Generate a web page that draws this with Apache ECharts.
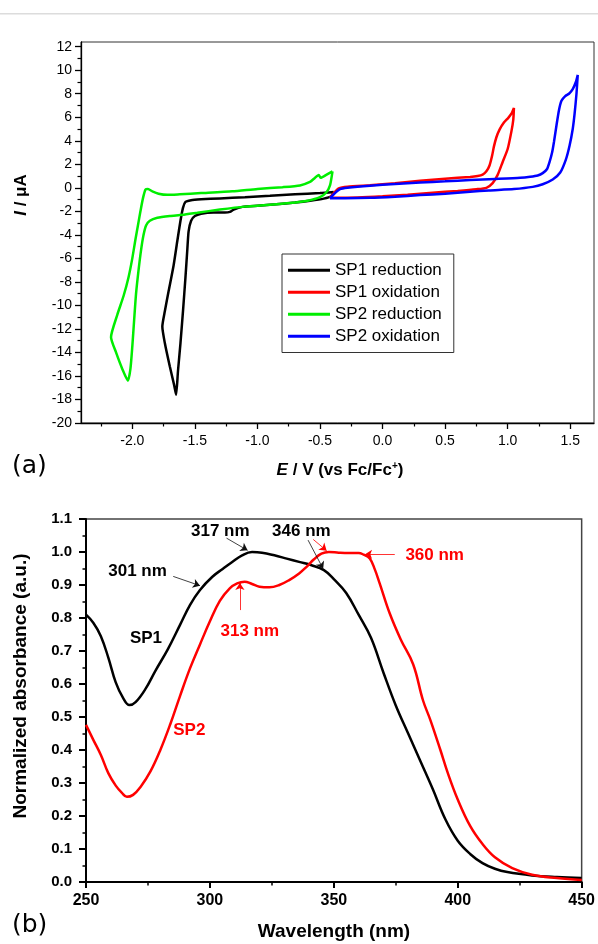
<!DOCTYPE html>
<html>
<head>
<meta charset="utf-8">
<script src="https://cdn.jsdelivr.net/npm/echarts@6/dist/echarts.min.js"></script>
<style>
  html, body { margin: 0; padding: 0; background: #fff; }
  #chart { width: 598px; height: 944px; }
</style>
</head>
<body>
<div id="chart"></div>
<script>
// (a) cyclic voltammograms, points are [E (V vs Fc/Fc+), I (uA)]
const sp1Reduction = [
  [-0.39,-0.35],[-0.5,-0.45],[-0.7,-0.55],[-0.9,-0.68],[-1.1,-0.8],[-1.3,-0.9],[-1.45,-0.98],
  [-1.53,-1.05],[-1.575,-1.2],[-1.595,-1.7],[-1.615,-2.8],[-1.64,-4.5],[-1.67,-6.6],[-1.71,-8.8],
  [-1.74,-10.5],[-1.76,-11.8],[-1.74,-13.2],[-1.70,-15.2],[-1.665,-16.8],[-1.65,-17.6],[-1.635,-15.6],
  [-1.615,-13.2],[-1.595,-10.5],[-1.575,-7.6],[-1.56,-5.2],[-1.55,-3.7],[-1.53,-2.8],[-1.50,-2.4],
  [-1.45,-2.2],[-1.35,-2.1],[-1.26,-2.1],[-1.22,-2.05],[-1.19,-1.85],[-1.12,-1.62],[-1.0,-1.52],
  [-0.85,-1.4],[-0.7,-1.25],[-0.58,-1.1],[-0.47,-0.92],[-0.41,-0.72],[-0.39,-0.35]
];
const sp1Oxidation = [
  [-0.42,-0.85],[-0.39,-0.45],[-0.35,-0.05],[-0.28,0.1],[-0.1,0.22],[0.1,0.38],[0.3,0.6],[0.5,0.78],
  [0.7,0.92],[0.76,1.0],[0.8,1.12],[0.83,1.4],[0.855,1.9],[0.875,2.7],[0.89,3.5],[0.91,4.3],
  [0.935,4.95],[0.97,5.55],[1.005,5.95],[1.03,6.3],[1.05,6.8],[1.045,5.8],[1.03,4.8],[1.0,3.3],
  [0.96,2.2],[0.92,1.1],[0.88,0.4],[0.83,0.0],[0.75,-0.12],[0.6,-0.26],[0.4,-0.42],[0.2,-0.58],
  [0.0,-0.72],[-0.2,-0.82],[-0.42,-0.85]
];
const sp2Reduction = [
  [-0.40,1.4],[-0.45,1.1],[-0.495,0.85],[-0.51,1.1],[-0.545,0.8],[-0.58,0.5],[-0.66,0.2],[-0.8,0.05],
  [-1.0,-0.1],[-1.2,-0.3],[-1.45,-0.45],[-1.62,-0.55],[-1.72,-0.6],[-1.79,-0.5],[-1.84,-0.3],
  [-1.875,-0.1],[-1.895,-0.15],[-1.915,-0.9],[-1.935,-2.0],[-1.955,-3.2],[-1.975,-4.4],[-2.0,-6.0],
  [-2.03,-7.6],[-2.07,-9.2],[-2.12,-10.8],[-2.17,-12.7],[-2.13,-14.0],[-2.08,-15.4],[-2.035,-16.4],
  [-2.015,-15.4],[-2.0,-13.5],[-1.985,-11.2],[-1.97,-9.0],[-1.95,-7.0],[-1.93,-5.3],[-1.91,-4.0],
  [-1.89,-3.2],[-1.86,-2.8],[-1.8,-2.55],[-1.7,-2.4],[-1.6,-2.3],[-1.48,-2.12],[-1.3,-1.85],
  [-1.1,-1.6],[-0.9,-1.45],[-0.74,-1.3],[-0.6,-1.1],[-0.5,-0.8],[-0.45,-0.4],[-0.42,0.2],[-0.40,1.4]
];
const sp2Oxidation = [
  [-0.42,-0.88],[-0.385,-0.5],[-0.34,-0.12],[-0.28,0.0],[-0.1,0.18],[0.1,0.32],[0.3,0.45],[0.5,0.55],
  [0.7,0.66],[0.9,0.75],[1.1,0.85],[1.18,0.94],[1.24,1.05],[1.28,1.25],[1.315,1.6],[1.335,2.2],
  [1.355,3.0],[1.37,3.9],[1.39,5.3],[1.41,6.6],[1.43,7.4],[1.46,7.8],[1.49,8.0],[1.52,8.4],
  [1.545,9.0],[1.56,9.6],[1.55,8.0],[1.535,6.3],[1.52,5.0],[1.495,3.6],[1.465,2.4],[1.42,1.3],
  [1.36,0.7],[1.28,0.3],[1.2,0.08],[1.05,-0.1],[0.85,-0.22],[0.7,-0.34],[0.5,-0.5],[0.3,-0.62],
  [0.1,-0.75],[-0.1,-0.85],[-0.3,-0.88],[-0.42,-0.88]
];
const cvNames = ['SP1 reduction', 'SP1 oxidation', 'SP2 reduction', 'SP2 oxidation'];
const cvColors = ['#000000', '#ff0000', '#00ee00', '#0000ff'];

const cvMajorE = [-2.0, -1.5, -1.0, -0.5, 0.0, 0.5, 1.0, 1.5];
const cvMinorE = [-2.25, -1.75, -1.25, -0.75, -0.25, 0.25, 0.75, 1.25];
const cvMajorI = [-20, -18, -16, -14, -12, -10, -8, -6, -4, -2, 0, 2, 4, 6, 8, 10, 12];
const cvMinorI = [-19, -17, -15, -13, -11, -9, -7, -5, -3, -1, 1, 3, 5, 7, 9, 11];

// (b) normalized absorption spectra
const wlSP1 = [250,253,256,259,262,265,267.5,270,274,278,283,288,292,296,301,305,309,313,317,321,
  326,331,336,341,346,350,355,360,365,370,375,380,385,390,395,400,405,410,415,420,430,440,450];
const absSP1 = [0.81,0.785,0.745,0.68,0.605,0.557,0.536,0.545,0.585,0.64,0.705,0.78,0.84,0.885,0.925,
  0.948,0.97,0.99,1.0,0.998,0.99,0.98,0.97,0.96,0.945,0.918,0.876,0.81,0.74,0.635,0.535,0.45,0.365,
  0.28,0.19,0.125,0.085,0.057,0.04,0.03,0.02,0.015,0.012];
const wlSP2 = [250,253,256,259,262,264.5,266.5,269,272,276,280,284,288,292,296,300,304,308,311,314,
  317,320,324,328,332,336,339,342,345,348,352,356,360,362,364.5,366.5,368.5,372.5,377,382,386,389,
  393,396,400,405,410,415,422,430,440,450];
const absSP2 = [0.476,0.43,0.385,0.33,0.292,0.27,0.258,0.264,0.288,0.335,0.4,0.478,0.565,0.648,0.72,
  0.79,0.852,0.89,0.905,0.91,0.903,0.895,0.893,0.9,0.915,0.935,0.955,0.978,0.995,1.0,0.998,0.997,
  0.997,0.992,0.98,0.948,0.905,0.815,0.735,0.66,0.55,0.49,0.4,0.33,0.25,0.17,0.115,0.075,0.042,
  0.022,0.012,0.006];
const wlTicks = [250, 300, 350, 400, 450];
const wlMinor = [275, 325, 375, 425];
const absTicks = [0, 0.1, 0.2, 0.3, 0.4, 0.5, 0.6, 0.7, 0.8, 0.9, 1.0, 1.1];
const absMinor = [0.05, 0.15, 0.25, 0.35, 0.45, 0.55, 0.65, 0.75, 0.85, 0.95, 1.05];

// peak annotations in data coordinates
const annoText = ['317 nm', '301 nm', '346 nm', '360 nm', '313 nm', 'SP1', 'SP2'];
const annoWl = [304.2, 270.8, 336.9, 390.7, 316.1, 274.2, 291.7];
const annoAbs = [1.064, 0.941, 1.064, 0.991, 0.759, 0.738, 0.459];
const annoColor = ['#000', '#000', '#000', '#ff0000', '#ff0000', '#000', '#ff0000'];
const arrowFrom = [[306.7, 1.042], [285.2, 0.926], [339.6, 1.036], [341.7, 1.038], [374.6, 0.993], [312.1, 0.824]];
const arrowTo = [[315.2, 1.005], [296.0, 0.898], [345.7, 0.949], [347.1, 1.004], [362.6, 0.993], [312.1, 0.906]];
const arrowColor = ['#111', '#111', '#111', '#ff0000', '#ff0000', '#ff0000'];

const font = 'Liberation Sans, Arial, sans-serif';
const chart = echarts.init(document.getElementById('chart'));

function valueAxis(grid, min, max, ticks, opts) {
  return Object.assign({
    gridIndex: grid, type: 'value', min: min, max: max,
    axisLine: { show: true, onZero: false, lineStyle: { color: '#000', width: opts.lw } },
    axisTick: { show: true, customValues: ticks, length: opts.len, lineStyle: { color: '#000', width: opts.lw } },
    axisLabel: opts.label ? Object.assign({ customValues: ticks, color: '#000', fontFamily: font }, opts.label) : { show: false },
    splitLine: { show: false }
  }, opts.extra || {});
}

function minorAxis(grid, min, max, ticks, pos, lw) {
  return {
    gridIndex: grid, type: 'value', min: min, max: max, position: pos,
    axisLine: { show: false, onZero: false },
    axisTick: { show: true, customValues: ticks, length: 3.5, lineStyle: { color: '#000', width: lw } },
    axisLabel: { show: false },
    splitLine: { show: false }
  };
}

const cvSeries = [sp1Reduction, sp1Oxidation, sp2Reduction, sp2Oxidation].map((d, i) => ({
  name: cvNames[i], type: 'line', xAxisIndex: 0, yAxisIndex: 0,
  data: d, symbol: 'none', smooth: 0.2, color: cvColors[i],
  lineStyle: { width: 2.5, color: cvColors[i] }
}));

const specSeries = [[wlSP1, absSP1, '#000'], [wlSP2, absSP2, '#ff0000']].map((s, i) => ({
  name: i === 0 ? 'SP1' : 'SP2', type: 'line', xAxisIndex: 2, yAxisIndex: 2,
  data: s[0].map((w, j) => [w, s[1][j]]), symbol: 'none', smooth: 0.4,
  lineStyle: { width: 2.5, color: s[2] }, color: s[2]
}));

const annoSeries = {
  type: 'scatter', xAxisIndex: 2, yAxisIndex: 2, silent: true, z: 10,
  symbolSize: 1, itemStyle: { color: 'transparent', opacity: 1 },
  label: { show: true, position: 'inside', formatter: p => p.name, fontWeight: 'bold', fontSize: 17, fontFamily: font, opacity: 1 },
  emphasis: { disabled: true },
  data: annoText.map((t, i) => ({ name: t, value: [annoWl[i], annoAbs[i]], label: { color: annoColor[i] } })),
  markLine: {
    silent: true, symbol: ['none', 'arrow'], symbolSize: 7, label: { show: false },
    animation: false,
    data: arrowFrom.map((p, i) => [
      { coord: p, lineStyle: { color: arrowColor[i], width: 0.8, type: 'solid' }, itemStyle: { color: arrowColor[i] } },
      { coord: arrowTo[i], lineStyle: { color: arrowColor[i], width: 0.8, type: 'solid' }, itemStyle: { color: arrowColor[i] } }
    ])
  }
};

chart.setOption({
  animation: false,
  textStyle: { fontFamily: font },
  grid: [
    { left: 81, top: 42, width: 513, height: 381, show: true, borderColor: '#333', borderWidth: 1 },
    { left: 86, top: 519, width: 496, height: 363, show: true, borderColor: '#444', borderWidth: 1.5 }
  ],
  legend: {
    data: cvNames, orient: 'vertical', left: 282, top: 254,
    padding: [7, 12, 7, 6], itemGap: 3.5, itemWidth: 42, itemHeight: 3, icon: 'rect',
    borderColor: '#333', borderWidth: 1, borderRadius: 0,
    textStyle: { fontSize: 17, lineHeight: 18.5, color: '#000', fontFamily: font }
  },
  xAxis: [
    valueAxis(0, -2.41, 1.69, cvMajorE, { lw: 1.3, len: 6, label: { fontSize: 14, margin: 11, formatter: v => v.toFixed(1) }, extra: { position: 'bottom' } }),
    minorAxis(0, -2.41, 1.69, cvMinorE, 'bottom', 1.2),
    valueAxis(1, 250, 450, wlTicks, { lw: 2, len: 6, label: { fontSize: 16, fontWeight: 'bold', margin: 11 }, extra: { position: 'bottom' } }),
    minorAxis(1, 250, 450, wlMinor, 'bottom', 1.5)
  ],
  yAxis: [
    valueAxis(0, -20, 12.4, cvMajorI, { lw: 1.3, len: 6, label: { fontSize: 14, margin: 9 }, extra: { position: 'left' } }),
    minorAxis(0, -20, 12.4, cvMinorI, 'left', 1.2),
    valueAxis(1, 0, 1.1, absTicks, { lw: 2, len: 7, label: { fontSize: 15, fontWeight: 'bold', margin: 14, formatter: v => v.toFixed(1) }, extra: { position: 'left' } }),
    minorAxis(1, 0, 1.1, absMinor, 'left', 1.5)
  ],
  graphic: [
    { type: 'rect', shape: { x: 0, y: 13, width: 598, height: 1.5 }, style: { fill: '#dcdcdc' }, silent: true },
    { type: 'text', x: 12, y: 466, style: { text: '(a)', font: '25px DejaVu Sans', fill: '#000', verticalAlign: 'middle' } },
    { type: 'text', x: 12, y: 925, style: { text: '(b)', font: '25px DejaVu Sans', fill: '#000', verticalAlign: 'middle' } },
    { type: 'text', x: 21, y: 195, rotation: Math.PI / 2,
      style: { text: '{i|I} / μA', fontSize: 17, fontWeight: 'bold', fontFamily: font, fill: '#000', align: 'center', verticalAlign: 'middle',
        rich: { i: { fontStyle: 'italic', fontWeight: 'bold', fontSize: 17, fontFamily: font } } } },
    { type: 'text', x: 340, y: 470,
      style: { text: '{i|E} / V (vs Fc/Fc{s|+})', fontSize: 17, fontWeight: 'bold', fontFamily: font, fill: '#000', align: 'center', verticalAlign: 'middle',
        rich: { i: { fontStyle: 'italic', fontWeight: 'bold', fontSize: 17, fontFamily: font }, s: { fontSize: 10, fontWeight: 'bold', verticalAlign: 'top', fontFamily: font } } } },
    { type: 'text', x: 21, y: 686, rotation: Math.PI / 2,
      style: { text: 'Normalized absorbance (a.u.)', fontSize: 19, fontWeight: 'bold', fontFamily: font, fill: '#000', align: 'center', verticalAlign: 'middle' } },
    { type: 'text', x: 334, y: 932,
      style: { text: 'Wavelength (nm)', fontSize: 19, fontWeight: 'bold', fontFamily: font, fill: '#000', align: 'center', verticalAlign: 'middle' } }
  ],
  series: cvSeries.concat(specSeries, [annoSeries])
});
</script>
</body>
</html>
